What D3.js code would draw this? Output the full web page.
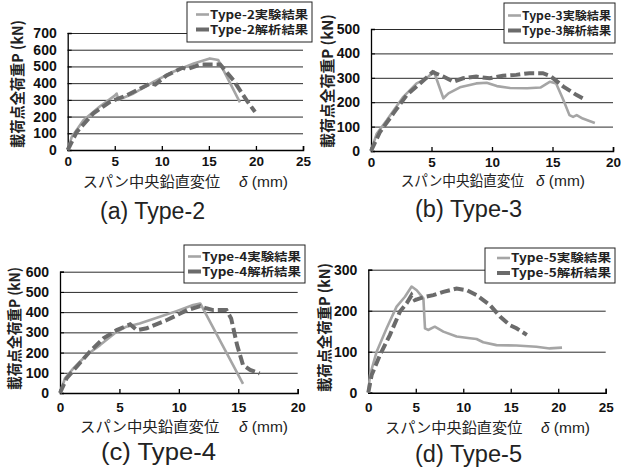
<!DOCTYPE html>
<html>
<head>
<meta charset="utf-8">
<script src="https://cdn.jsdelivr.net/npm/d3@7"></script>
<style>
  html, body { margin: 0; padding: 0; background: #fff; }
  svg { display: block; }
</style>
</head>
<body>
<svg id="chart" width="621" height="468"></svg>
<script>
// ---- data (deflection δ mm, load P kN) ----
const type2Exp = [[0,0],[0.43,78],[1.67,178],[3.44,262],[5.0,325],[5.2,338],[5.4,300],[7.0,338],[9.1,408],[11.2,468],[13.4,518],[15.1,548],[16.0,538],[18.3,285]];
const type2Ana = [[0,0],[0.96,108],[2.7,218],[4.5,288],[6.3,328],[8.8,398],[9.3,392],[10.5,446],[12.2,492],[12.7,484],[14.1,512],[16.2,512],[17.6,418],[19.0,298],[19.9,228]];
const type3Exp = [[0,0],[0.47,71],[1.3,126],[2.67,222],[3.77,277],[4.6,298],[5.2,326],[5.98,216],[6.4,236],[7.35,261],[8.7,277],[9.56,280],[10.4,266],[11.5,258],[12.9,257],[14.0,260],[14.8,284],[15.3,277],[15.9,209],[16.4,147],[16.7,140],[17.0,147],[17.5,133],[18.5,115]];
const type3Ana = [[0,0],[0.74,78],[1.85,154],[2.95,229],[4.05,277],[5.1,323],[5.98,305],[6.8,284],[7.6,298],[8.7,305],[9.8,298],[10.9,308],[12.0,312],[13.1,319],[14.2,319],[14.8,308],[15.9,264],[17.0,229],[17.5,216]];
const type4Exp = [[0,0],[0.42,73],[1.12,122],[2.24,188],[3.37,237],[4.77,303],[5.6,328],[6.7,344],[8.4,377],[9.8,405],[11.2,435],[11.8,443],[15.4,45]];
const type4Ana = [[0,0],[0.56,73],[1.4,130],[2.5,204],[3.65,270],[4.77,311],[5.9,340],[6.45,311],[7.3,320],[9.0,361],[10.7,410],[11.8,430],[12.3,419],[12.9,410],[14.0,410],[14.4,369],[14.9,237],[15.4,138],[16.0,114],[16.8,97]];
const type5Exp = [[0,0],[0.18,43],[0.88,100],[1.93,157],[2.98,210],[3.86,234],[4.56,259],[5.1,250],[5.8,230],[5.97,157],[6.3,153],[7.0,161],[7.9,149],[9.3,137],[10.7,133],[11.4,131],[12.1,123],[13.5,116],[15.6,115],[17.7,112],[19.1,108],[20.4,110]];
const type5Ana = [[0,0],[0.35,43],[1.23,92],[2.28,141],[3.34,198],[4.04,218],[4.56,238],[4.9,226],[5.44,230],[5.97,234],[6.85,238],[7.9,246],[9.3,254],[10.4,250],[11.4,238],[12.8,214],[13.9,185],[14.9,165],[15.6,157],[16.7,141]];

const xTicks25 = [0, 5, 10, 15, 20, 25];
const xTicks20 = [0, 5, 10, 15, 20];
const yTicks700 = [0, 100, 200, 300, 400, 500, 600, 700];
const yTicks500 = [0, 100, 200, 300, 400, 500];
const yTicks600 = [0, 100, 200, 300, 400, 500, 600];
const yTicks300 = [0, 100, 200, 300];

const panelNames = ["Type-2", "Type-3", "Type-4", "Type-5"];
const panelLetters = ["a", "b", "c", "d"];

const xTitleJa = "スパン中央鉛直変位";
const xTitleUnit = "(mm)";
const yTitle = "載荷点全荷重P (kN)";

const expColor = "#a5a5a5";
const anaColor = "#6b6b6b";
const jaFont = "'Noto Sans CJK JP', sans-serif";
const numFont = "'Liberation Sans', Arial, sans-serif";
const capFont = "'Liberation Sans Narrow', 'Liberation Sans', sans-serif";

// ---- layout for each panel ----
const panels = [
  { exp: type2Exp, ana: type2Ana, xt: xTicks25, yt: yTicks700,
    x0: 67.7, x1: 303, yTop: 33, yBot: 150,
    yTitleX: 18, yTitleY: 84, yTitleLen: 128,
    xTickY: 166, xTitleX: [82.7, 288], xTitleY: 187,
    capX: [100, 205], capY: 219, leg: [187, 2, 125, 40], legText: 98 },
  { exp: type3Exp, ana: type3Ana, xt: xTicks20, yt: yTicks500,
    x0: 371, x1: 613, yTop: 29, yBot: 151,
    yTitleX: 328, yTitleY: 81, yTitleLen: 134,
    xTickY: 167, xTitleX: [400.7, 585], xTitleY: 186,
    capX: [415, 522], capY: 217, leg: [504, 3, 111, 40], legText: 89 },
  { exp: type4Exp, ana: type4Ana, xt: xTicks20, yt: yTicks600,
    x0: 60, x1: 297.7, yTop: 271.7, yBot: 393,
    yTitleX: 15, yTitleY: 328.5, yTitleLen: 123,
    xTickY: 412, xTitleX: [80, 288], xTitleY: 432,
    capX: [101, 216], capY: 460, leg: [184, 245, 121, 38], legText: 99 },
  { exp: type5Exp, ana: type5Ana, xt: xTicks25, yt: yTicks300,
    x0: 368.3, x1: 605.7, yTop: 269.7, yBot: 392.7,
    yTitleX: 325, yTitleY: 327.5, yTitleLen: 129,
    xTickY: 412, xTitleX: [385, 590], xTitleY: 433,
    capX: [415, 522], capY: 462, leg: [485, 248, 130, 35], legText: 100 }
];

const svg = d3.select("#chart");

panels.forEach((p, i) => {
  const g = svg.append("g");
  const xScale = d3.scaleLinear().domain([0, d3.max(p.xt)]).range([p.x0, p.x1]);
  const yScale = d3.scaleLinear().domain([0, d3.max(p.yt)]).range([p.yBot, p.yTop]);

  // gridlines
  g.append("g")
    .attr("transform", `translate(${p.x0},0)`)
    .call(d3.axisLeft(yScale).tickValues(p.yt.slice(1)).tickSize(-(p.x1 - p.x0)).tickFormat(""))
    .call(s => s.select(".domain").remove())
    .call(s => s.selectAll("line").attr("stroke", "#2a2a2a").attr("stroke-width", 1));

  // y axis
  g.append("g")
    .attr("transform", `translate(${p.x0},0)`)
    .call(d3.axisLeft(yScale).tickValues(p.yt).tickSize(-4).tickPadding(11))
    .call(s => s.select(".domain").attr("stroke", "#000").attr("stroke-width", 1.3))
    .call(s => s.selectAll("line").attr("stroke", "#000"))
    .call(s => s.selectAll(".tick text").style("font-family", numFont).style("font-weight", "bold")
      .style("font-size", "14px").style("fill", "#111"));

  // x axis
  g.append("g")
    .attr("transform", `translate(0,${p.yBot})`)
    .call(d3.axisBottom(xScale).tickValues(p.xt).tickSize(-4).tickPadding(8))
    .call(s => s.select(".domain").attr("stroke", "#000").attr("stroke-width", 1.5))
    .call(s => s.selectAll("line").attr("stroke", "#000").attr("stroke-width", 1.3))
    .call(s => s.selectAll(".tick text").attr("dy", null).attr("y", p.xTickY - p.yBot)
      .style("font-family", numFont).style("font-weight", "bold")
      .style("font-size", "13.5px").style("fill", "#111"));

  const line = d3.line().x(d => xScale(d[0])).y(d => yScale(d[1]));

  g.append("path").datum(p.exp)
    .attr("d", line).attr("fill", "none")
    .attr("stroke", expColor).attr("stroke-width", 2.6).attr("stroke-linejoin", "round");
  g.append("path").datum(p.ana)
    .attr("d", line).attr("fill", "none")
    .attr("stroke", anaColor).attr("stroke-width", 4).attr("stroke-dasharray", "10,4");

  // titles
  g.append("text")
    .attr("transform", `translate(${p.yTitleX},${p.yTitleY}) rotate(-90)`)
    .attr("text-anchor", "middle").attr("dy", "0.36em")
    .attr("textLength", p.yTitleLen).attr("lengthAdjust", "spacingAndGlyphs")
    .style("font-family", jaFont).style("font-weight", "bold")
    .style("font-size", "15px").style("fill", "#222")
    .text(yTitle);

  // x title: japanese part, then δ (mm) at the right end
  const tw = p.xTitleX[1] - p.xTitleX[0];
  g.append("text")
    .attr("x", p.xTitleX[0]).attr("y", p.xTitleY)
    .attr("textLength", tw * 0.67).attr("lengthAdjust", "spacingAndGlyphs")
    .style("font-family", jaFont)
    .style("font-size", "14.5px").style("fill", "#222")
    .text(xTitleJa);
  const unit = g.append("text")
    .attr("x", p.xTitleX[1]).attr("y", p.xTitleY)
    .attr("text-anchor", "end")
    .style("font-family", numFont)
    .style("font-size", "15.5px").style("fill", "#222");
  unit.append("tspan").style("font-style", "italic").text("δ");
  unit.append("tspan").text(" " + xTitleUnit);

  g.append("text")
    .attr("x", p.capX[0]).attr("y", p.capY)
    .attr("textLength", p.capX[1] - p.capX[0]).attr("lengthAdjust", "spacingAndGlyphs")
    .style("font-family", capFont)
    .style("font-size", "23px").style("fill", "#222")
    .text(`(${panelLetters[i]}) ${panelNames[i]}`);

  // legend
  const [lx, ly, lw, lh] = p.leg;
  const key = g.append("g").attr("transform", `translate(${lx},${ly})`);
  key.append("rect").attr("width", lw).attr("height", lh)
    .attr("fill", "#fff").attr("stroke", "#222").attr("stroke-width", 1);
  const rows = [
    { label: `${panelNames[i]}実験結果`, color: expColor, w: 2.6 },
    { label: `${panelNames[i]}解析結果`, color: anaColor, w: 4 }
  ];
  const tx = lw - p.legText - 4;
  rows.forEach((r, k) => {
    const cy = lh / 2 + (k === 0 ? -7.5 : 7.5);
    key.append("line").attr("x1", tx - 14).attr("x2", tx - 1).attr("y1", cy).attr("y2", cy)
      .attr("stroke", r.color).attr("stroke-width", r.w);
    key.append("text").attr("x", tx).attr("y", cy).attr("dy", "0.36em")
      .attr("textLength", p.legText).attr("lengthAdjust", "spacingAndGlyphs")
      .style("font-family", jaFont).style("font-weight", "bold")
      .style("font-size", "11.5px").style("fill", "#222")
      .text(r.label);
  });
});
</script>
</body>
</html>
